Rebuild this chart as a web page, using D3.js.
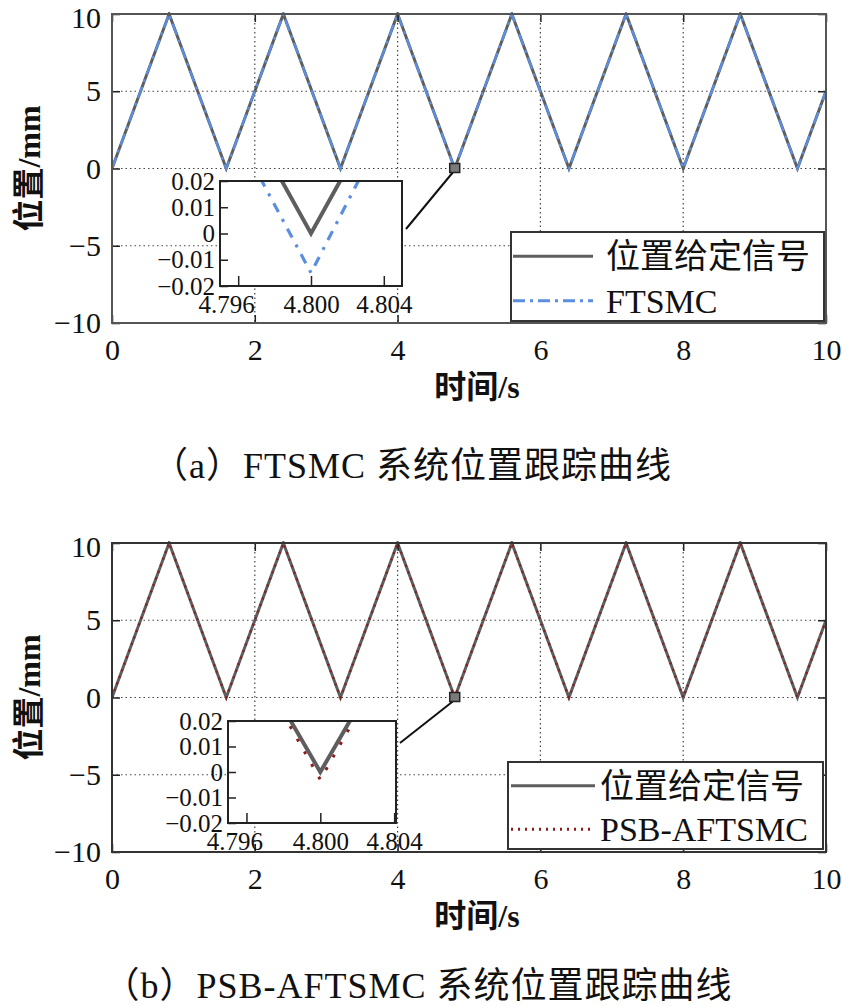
<!DOCTYPE html>
<html><head><meta charset="utf-8">
<script src="https://cdn.jsdelivr.net/npm/d3@7"></script>
<style>body{margin:0;background:#fff}svg{display:block}
svg text{font-family:"Liberation Serif","Times New Roman","Noto Sans CJK SC",serif !important}</style>
</head><body>
<script>
// ---------------- data ----------------
const timeKnots = [0,0.8,1.6,2.4,3.2,4.0,4.8,5.6,6.4,7.2,8.0,8.8,9.6,10];
const refValues = [0,10,0,10,0,10,0,10,0,10,0,10,0,5];
const ftsmcTimes = [0,0.8,1.6,2.4,3.2,4.0,4.7973,4.8,4.8026,5.6,6.4,7.2,8.0,8.8,9.6,10];
const ftsmcValues = [0,10,0,10,0,10,0.02,-0.015,0.02,10,0,10,0,10,0,5];
const psbTimes = [0,0.8,1.6,2.4,3.2,4.0,4.7982,4.8,4.8018,5.6,6.4,7.2,8.0,8.8,9.6,10];
const psbValues = [0,10,0,10,0,10,0.02,-0.003,0.02,10,0,10,0,10,0,5];
const xTicks = [0,2,4,6,8,10];
const yTicks = [-10,-5,0,5,10];
const gridX = [2,4,6,8];
const gridY = [-5,0,5];
const insetXTicks = [4.796,4.800,4.804];
const insetYTicks = [-0.02,-0.01,0,0.01,0.02];
const refLabel = "位置给定信号";
const seriesLabels = ["FTSMC","PSB-AFTSMC"];
const captions = ["（a）FTSMC 系统位置跟踪曲线","（b）PSB-AFTSMC 系统位置跟踪曲线"];
const xLabel = "时间/s", yLabel = "位置/mm";
const zoomCenter = [4.8, 0];

// ---------------- layout / style ----------------
const W = 842, H = 1006;
const panels = [
  {top:14, bottom:323, left:112, right:826, label:seriesLabels[0], times:ftsmcTimes, values:ftsmcValues,
   color:"#5b8ede", width:2.4, dash:"12,5,3,5", insetDash:"10,8,3,8", insetWidth:3.2,
   inset:{x0:220, x1:402, y0:181, y1:286, dom:[4.795,4.805]}, conn:{dy:48},
   legend:{x0:511, x1:824, y0:232, y1:321, l0:513, l1:593, tx:606}, boxColor:"#555",
   caption:captions[0], capY:478, capX:412, xlabY:398},
  {top:543, bottom:852, left:112, right:826, label:seriesLabels[1], times:psbTimes, values:psbValues,
   color:"#8b1c1c", width:2.2, dash:"2,5", insetDash:"3,11.5", insetWidth:3,
   inset:{x0:228, x1:396, y0:721, y1:823, dom:[4.795,4.8041]}, conn:{dy:22},
   legend:{x0:508, x1:823, y0:762, y1:849, l0:511, l1:595, tx:600}, boxColor:"#333",
   caption:captions[1], capY:998, capX:418, xlabY:927}
];

const svg = d3.select("body").append("svg").attr("width",W).attr("height",H);

panels.forEach((p,pi)=>{
  const x = d3.scaleLinear().domain([0,10]).range([p.left,p.right]);
  const y = d3.scaleLinear().domain([-10,10]).range([p.bottom,p.top]);
  const g = svg.append("g");

  // grid
  g.selectAll(".gx").data(gridX).join("line")
    .attr("x1",d=>x(d)).attr("x2",d=>x(d)).attr("y1",p.top).attr("y2",p.bottom)
    .attr("stroke","#444").attr("stroke-width",1.2).attr("stroke-dasharray","1.5,3");
  g.selectAll(".gy").data(gridY).join("line")
    .attr("y1",d=>y(d)).attr("y2",d=>y(d)).attr("x1",p.left).attr("x2",p.right)
    .attr("stroke","#444").attr("stroke-width",1.2).attr("stroke-dasharray","1.5,3");

  const clipId = "clip"+pi;
  svg.append("clipPath").attr("id",clipId).append("rect")
    .attr("x",p.left).attr("y",p.top-2).attr("width",p.right-p.left).attr("height",p.bottom-p.top+4);

  const refData = timeKnots.map((t,i)=>[t,refValues[i]]);
  const serData = p.times.map((t,i)=>[t,p.values[i]]);
  const line = d3.line().x(d=>x(d[0])).y(d=>y(d[1]));
  const lg = g.append("g").attr("clip-path",`url(#${clipId})`);
  lg.append("path").attr("d",line(refData)).attr("fill","none")
    .attr("stroke","#5e5e5e").attr("stroke-width",3);
  lg.append("path").attr("d",line(serData)).attr("fill","none")
    .attr("stroke",p.color).attr("stroke-width",p.width).attr("stroke-dasharray",p.dash);

  // axes
  const tickStyle = sel=>{ sel.select(".domain").remove();
    sel.selectAll(".tick line").attr("stroke","#222").attr("stroke-width",1.5); };
  g.append("g").attr("transform",`translate(0,${p.bottom})`)
    .call(d3.axisBottom(x).tickValues(xTicks).tickSize(-8).tickPadding(16).tickFormat(d3.format("d")))
    .call(tickStyle)
    .selectAll("text").style("font-size","30px").attr("fill","#111");
  g.append("g").attr("transform",`translate(0,${p.top})`)
    .call(d3.axisTop(x).tickValues(xTicks).tickSize(-8).tickFormat(""))
    .call(tickStyle);
  g.append("g").attr("transform",`translate(${p.left},0)`)
    .call(d3.axisLeft(y).tickValues(yTicks).tickSize(-8).tickPadding(11).tickFormat(d3.format("d")))
    .call(tickStyle)
    .selectAll("text").style("font-size","30px").attr("fill","#111")
    .attr("dy",d=>d===10?"0.45em":"0.32em");
  g.append("g").attr("transform",`translate(${p.right},0)`)
    .call(d3.axisRight(y).tickValues(yTicks).tickSize(-8).tickFormat(""))
    .call(tickStyle);

  g.append("rect").attr("x",p.left).attr("y",p.top).attr("width",p.right-p.left)
    .attr("height",p.bottom-p.top).attr("fill","none").attr("stroke",p.boxColor).attr("stroke-width",2);

  // axis labels
  g.append("text").attr("x",(p.left+p.right)/2+8).attr("y",p.xlabY).attr("text-anchor","middle")
    .style("font-size","32px").attr("font-weight","bold").attr("fill","#111").text(xLabel);
  g.append("text").attr("transform",`translate(40,${(p.top+p.bottom)/2}) rotate(-90)`)
    .attr("text-anchor","middle").style("font-size","32px").attr("font-weight","bold").attr("fill","#111").text(yLabel);

  // zoom marker & connector
  const mx = x(zoomCenter[0]), my = y(zoomCenter[1]);
  const I = p.inset;
  g.append("line").attr("x1",mx-2).attr("y1",my+4).attr("x2",I.x1+4).attr("y2",I.y0+p.conn.dy)
    .attr("stroke","#111").attr("stroke-width",2);
  g.append("rect").attr("x",mx-5).attr("y",my-5).attr("width",10).attr("height",9)
    .attr("fill","#7a7a7a").attr("stroke","#222").attr("stroke-width",1.5);

  // inset
  const ix = d3.scaleLinear().domain(I.dom).range([I.x0,I.x1]);
  const iy = d3.scaleLinear().domain([-0.02,0.02]).range([I.y1,I.y0]);
  const ig = g.append("g");
  ig.append("rect").attr("x",I.x0).attr("y",I.y0).attr("width",I.x1-I.x0).attr("height",I.y1-I.y0)
    .attr("fill","#fff");
  const iclip = "iclip"+pi;
  svg.append("clipPath").attr("id",iclip).append("rect")
    .attr("x",I.x0).attr("y",I.y0).attr("width",I.x1-I.x0).attr("height",I.y1-I.y0);
  const iline = d3.line().x(d=>ix(d[0])).y(d=>iy(d[1]));
  const il = ig.append("g").attr("clip-path",`url(#${iclip})`);
  il.append("path").attr("d",iline(refData)).attr("fill","none")
    .attr("stroke","#5e5e5e").attr("stroke-width",4);
  il.append("path").attr("d",iline(serData)).attr("fill","none")
    .attr("stroke",p.color).attr("stroke-width",p.insetWidth).attr("stroke-dasharray",p.insetDash);
  const ia = ig.append("g").attr("transform",`translate(0,${I.y1})`)
    .call(d3.axisBottom(ix).tickValues(insetXTicks).tickSize(-10).tickPadding(9).tickFormat(d3.format(".3f")))
    .call(tickStyle);
  ia.selectAll("text").style("font-size","25px").attr("fill","#111")
    .attr("dx",(d,i)=>i===0?-12:0);
  ig.append("g").attr("transform",`translate(${I.x0},0)`)
    .call(d3.axisLeft(iy).tickValues(insetYTicks).tickSize(-8).tickPadding(5)
      .tickFormat(d=>d===0?"0":d3.format(".2f")(d)))
    .call(tickStyle)
    .selectAll("text").style("font-size","25px").attr("fill","#111");
  ig.append("rect").attr("x",I.x0).attr("y",I.y0).attr("width",I.x1-I.x0).attr("height",I.y1-I.y0)
    .attr("fill","none").attr("stroke","#222").attr("stroke-width",2);

  // legend
  const L = p.legend;
  g.append("rect").attr("x",L.x0).attr("y",L.y0).attr("width",L.x1-L.x0).attr("height",L.y1-L.y0)
    .attr("fill","#fff").attr("stroke","#333").attr("stroke-width",2);
  const rowH = (L.y1-L.y0)/2;
  const rows = [{t:refLabel, c:"#5e5e5e", w:3, d:null},{t:p.label, c:p.color, w:p.width+0.6, d:p.dash}];
  rows.forEach((r,ri)=>{
    const cy = L.y0 + rowH*(ri+0.5) + 2;
    g.append("line").attr("x1",L.l0).attr("x2",L.l1).attr("y1",cy).attr("y2",cy)
      .attr("stroke",r.c).attr("stroke-width",r.w).attr("stroke-dasharray",r.d);
    g.append("text").attr("x",L.tx).attr("y",cy).attr("dy","0.35em")
      .style("font-size","34px").attr("fill","#111").text(r.t);
  });

  // caption
  svg.append("text").attr("x",p.capX).attr("y",p.capY).attr("text-anchor","middle")
    .style("font-size","36px").style("letter-spacing","1px").attr("fill","#111").text(p.caption);
});
</script>
</body></html>
